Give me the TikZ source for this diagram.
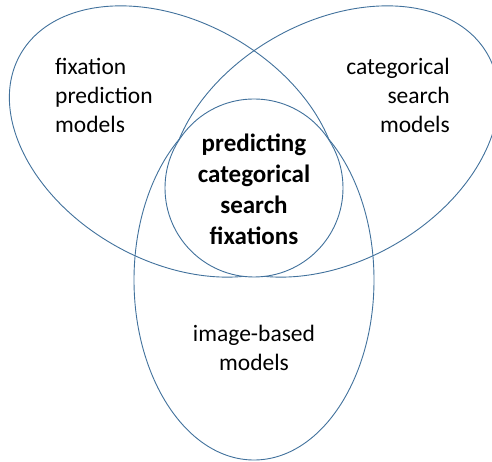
\documentclass[tikz,border=0pt]{standalone}
\usepackage{fontspec}
\setmainfont{Carlito}
\definecolor{vennblue}{RGB}{65,113,156}

\begin{document}
\begin{tikzpicture}[x=1pt,y=1pt,
    venn/.style={draw=vennblue,line width=0.9pt},
    lbl/.style={inner sep=0pt,font=\fontsize{23.5}{29}\selectfont},
    core/.style={inner sep=0pt,align=center,font=\fontsize{25}{31}\selectfont\bfseries}]
\useasboundingbox (0,0) rectangle (492,462);
% three model families and the common core
\draw[venn,rotate around={-29.5:(174,320.5)}] (174,320.5) ellipse [x radius=176.6pt,y radius=119.6pt];
\draw[venn,rotate around={29.5:(334,320.5)}] (334,320.5) ellipse [x radius=176.6pt,y radius=119.6pt];
\draw[venn] (254,182) ellipse [x radius=120pt,y radius=180pt];
\draw[venn,fill=white] (254,274) circle [radius=89pt];

\node[lbl,align=left,anchor=west] (fixpred) at (55,367) {fixation\\prediction\\models};
\node[lbl,align=right,anchor=east] (catsearch) at (450,367) {categorical\\search\\models};
\node[lbl,align=center] (imgbased) at (254,114.5) {image-based\\models};
\node[core] (predcat) at (254,272.5) {predicting\\categorical\\search\\fixations};
\end{tikzpicture}
\end{document}
